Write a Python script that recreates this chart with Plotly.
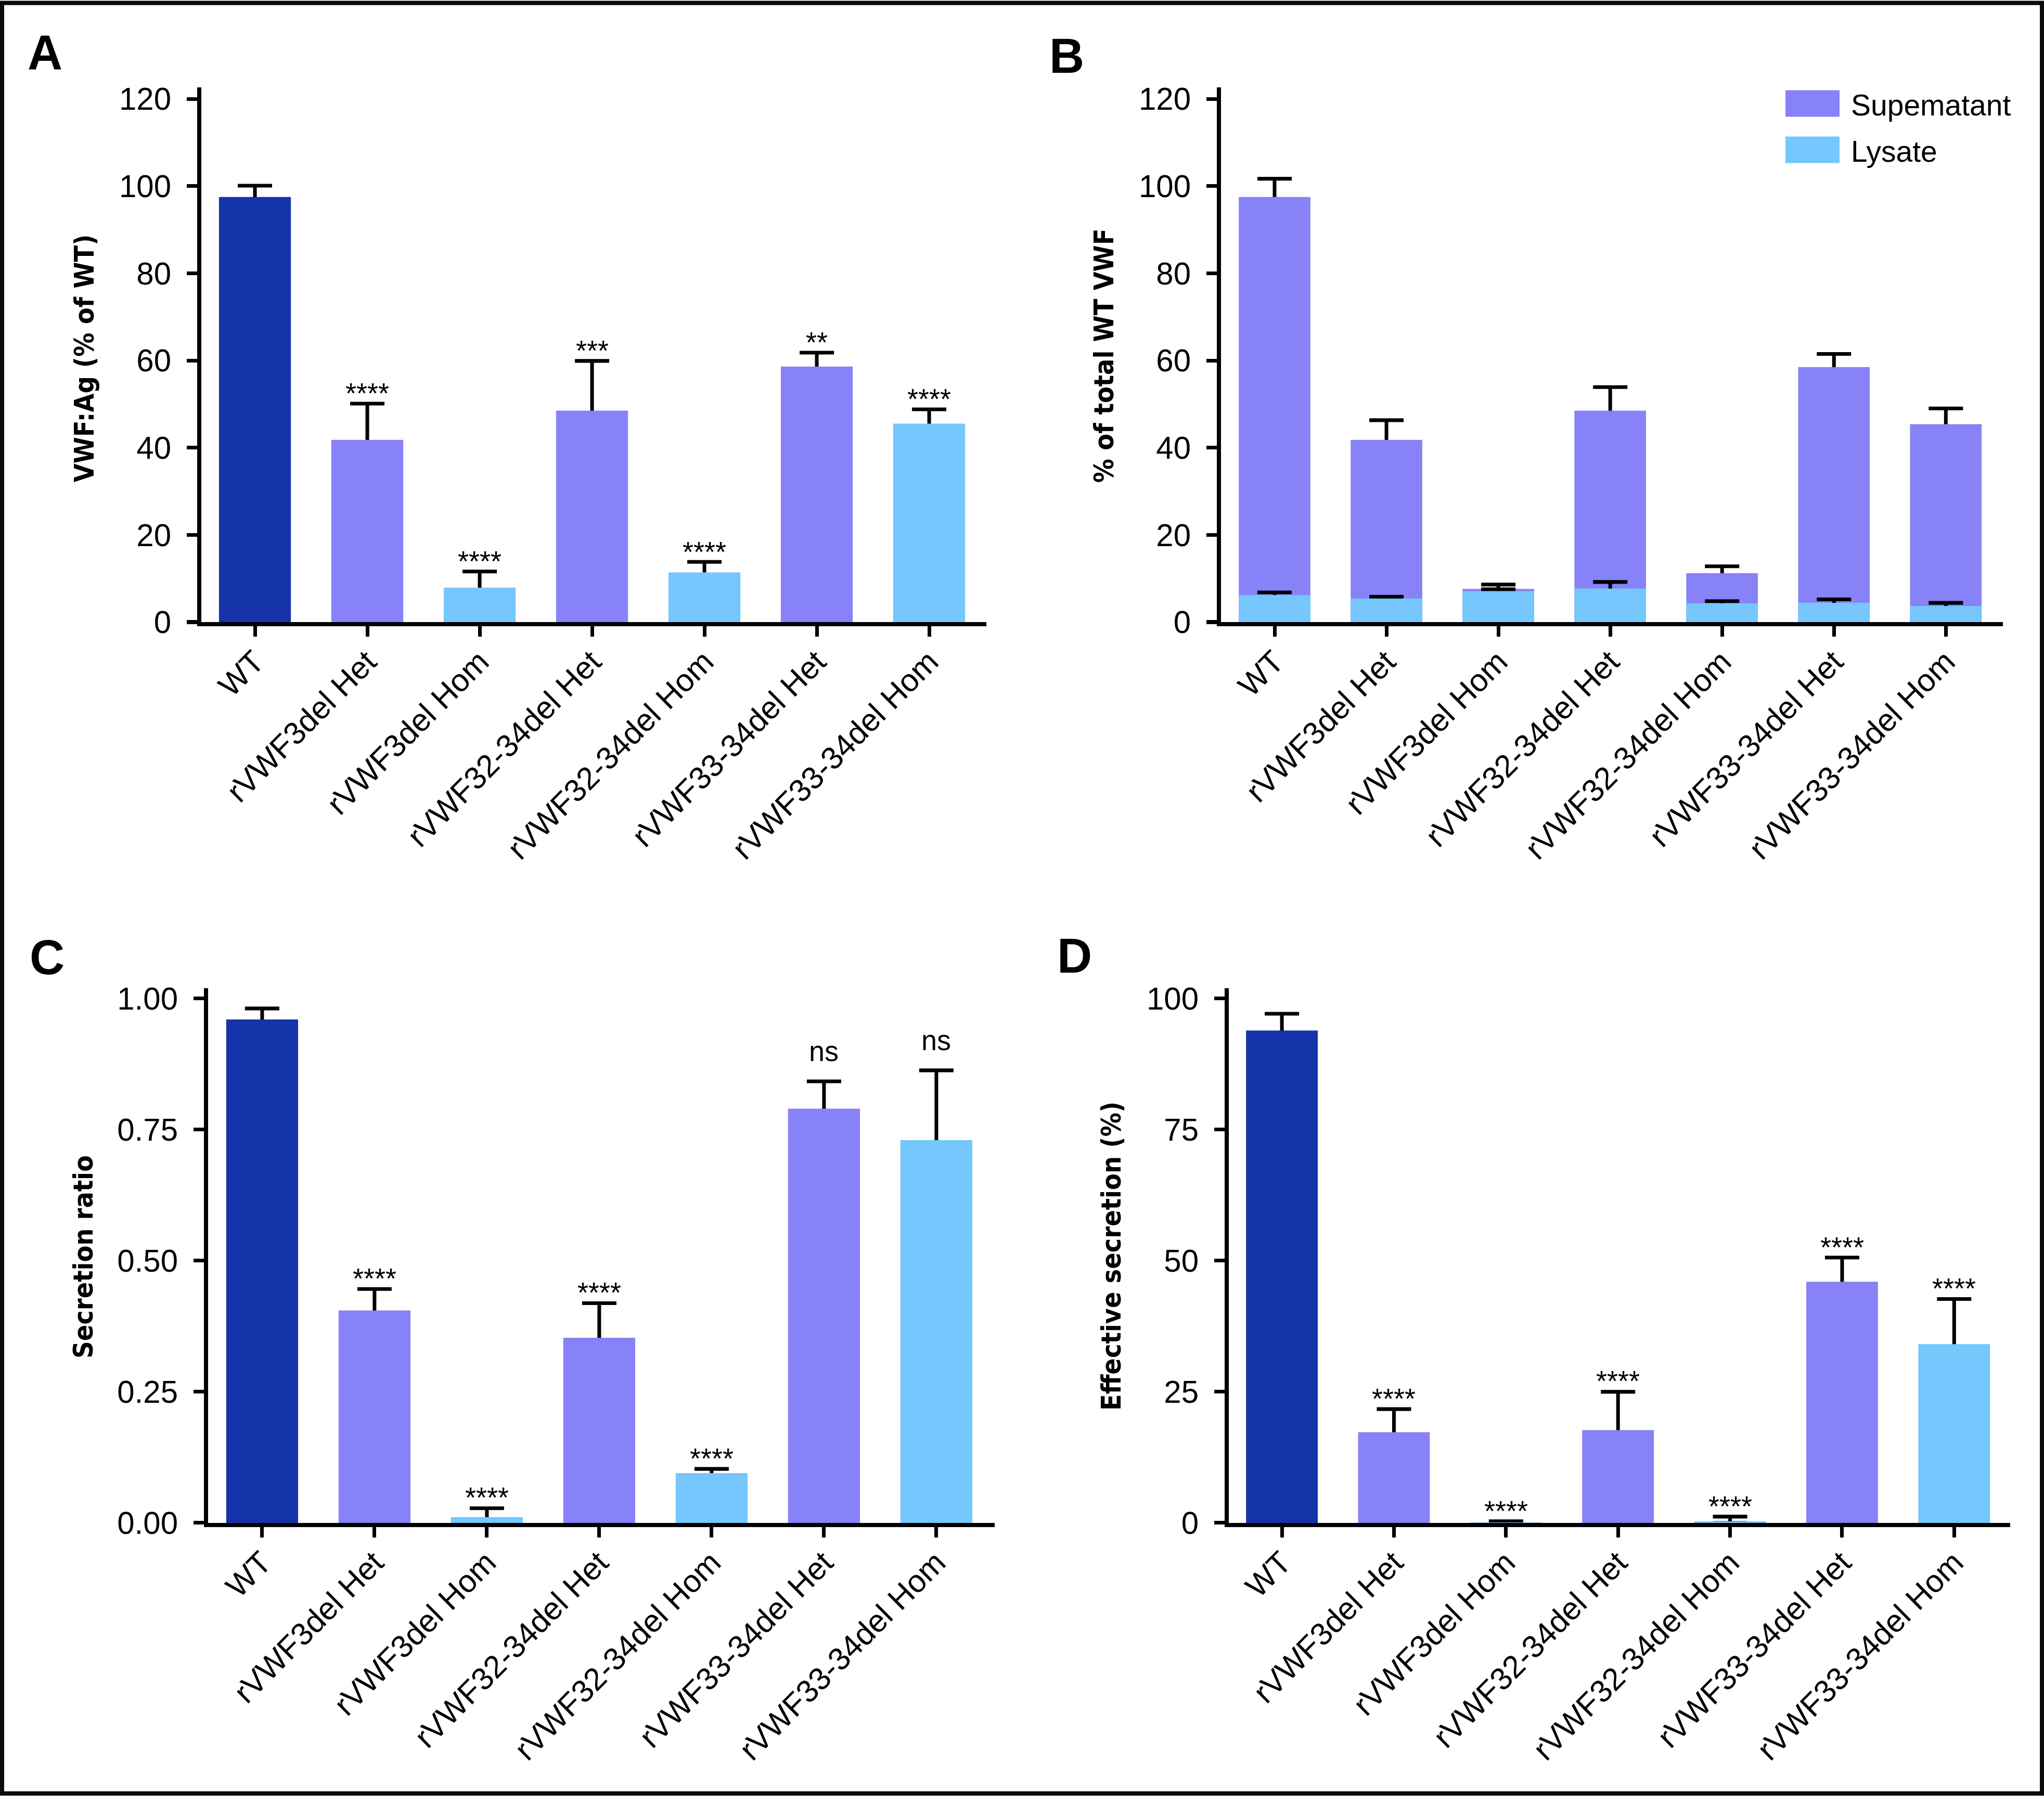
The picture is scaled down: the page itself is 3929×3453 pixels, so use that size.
import plotly.graph_objects as go

# ---------------- data ----------------
categories = ["WT", "rVWF3del Het", "rVWF3del Hom", "rVWF32-34del Het",
              "rVWF32-34del Hom", "rVWF33-34del Het", "rVWF33-34del Hom"]

# Panel A: VWF:Ag (% of WT)
vwf_ag_mean = [97.5, 41.8, 7.9, 48.5, 11.4, 58.6, 45.5]
vwf_ag_sd = [2.6, 8.3, 3.7, 11.4, 2.4, 3.2, 3.3]
vwf_ag_sig = ["", "****", "****", "***", "****", "**", "****"]

# Panel B: % of total WT VWF
supernatant_name = "Supematant"
lysate_name = "Lysate"
supernatant = [97.5, 41.8, 7.6, 48.5, 11.2, 58.5, 45.4]
supernatant_sd = [4.2, 4.5, 1.0, 5.4, 1.6, 3.0, 3.6]
lysate = [6.2, 5.4, 7.1, 7.7, 4.3, 4.4, 3.7]
lysate_sd = [0.6, 0.4, 0.4, 1.5, 0.5, 0.8, 0.7]

# Panel C: secretion ratio
secretion_ratio = [0.960, 0.405, 0.011, 0.353, 0.095, 0.790, 0.730]
secretion_sd = [0.021, 0.041, 0.017, 0.066, 0.008, 0.052, 0.133]
secretion_sig = ["", "****", "****", "****", "****", "ns", "ns"]

# Panel D: effective secretion (%)
effective = [93.9, 17.3, 0.1, 17.7, 0.3, 46.0, 34.1]
effective_sd = [3.2, 4.4, 0.2, 7.3, 0.9, 4.6, 8.6]
effective_sig = ["", "****", "****", "****", "****", "****", "****"]

y_ticks_ab = [0, 20, 40, 60, 80, 100, 120]
y_ticks_c = [0, 0.25, 0.5, 0.75, 1.0]
y_ticks_c_text = ["0.00", "0.25", "0.50", "0.75", "1.00"]
y_ticks_d = [0, 25, 50, 75, 100]

# ---------------- style ----------------
W, H = 3929, 3453
DARK = "#1634A9"
PURPLE = "#8782F8"
LIGHT = "#75C7FD"
bar_colors = [DARK, PURPLE, LIGHT, PURPLE, LIGHT, PURPLE, LIGHT]
TICKFONT = dict(family="Liberation Sans, Arial, Helvetica, sans-serif", size=60, color="black")
TITLEFONT = dict(family="Liberation Sans Narrow, DejaVu Sans Condensed, Arial Narrow, Liberation Sans, sans-serif",
                 size=51, color="black")
SIGFONT = dict(family="Liberation Sans, Arial, sans-serif", size=54, color="black")
LETTERFONT = dict(family="Liberation Sans, Arial, sans-serif", size=93, color="black")


def px_x(p):
    return p / W


def px_y(p):
    return 1 - p / H


def err_full(mean, sd):
    # one-sided (upward) error bar: stem runs from the baseline, the bar drawn
    # afterwards hides the part inside it and the lower cap.
    return dict(type="data", array=sd, arrayminus=mean, symmetric=False,
                color="black", thickness=7, width=33, visible=True)


def err_helper(mean, sd, xa, ya):
    return go.Bar(x=categories, y=mean, marker=dict(color="rgba(0,0,0,0)", line=dict(width=0)),
                  error_y=err_full(mean, sd), xaxis=xa, yaxis=ya, showlegend=False,
                  hoverinfo="skip")


def bars(mean, colors, xa, ya, name=None):
    return go.Bar(x=categories, y=mean, name=name, marker=dict(color=colors, line=dict(width=0)),
                  xaxis=xa, yaxis=ya, showlegend=False)


fig = go.Figure()

# Panel A
fig.add_trace(err_helper(vwf_ag_mean, vwf_ag_sd, "x", "y"))
fig.add_trace(bars(vwf_ag_mean, bar_colors, "x", "y"))
# Panel B (overlaid)
fig.add_trace(err_helper(supernatant, supernatant_sd, "x2", "y2"))
fig.add_trace(bars(supernatant, PURPLE, "x2", "y2", supernatant_name))
fig.add_trace(err_helper(lysate, lysate_sd, "x2", "y2"))
fig.add_trace(bars(lysate, LIGHT, "x2", "y2", lysate_name))
# Panel C
fig.add_trace(err_helper(secretion_ratio, secretion_sd, "x3", "y3"))
fig.add_trace(bars(secretion_ratio, bar_colors, "x3", "y3"))
# Panel D
fig.add_trace(err_helper(effective, effective_sd, "x4", "y4"))
fig.add_trace(bars(effective, bar_colors, "x4", "y4"))


def xaxis(dom, rng, anchor):
    return dict(domain=[px_x(dom[0]), px_x(dom[1])], range=rng, anchor=anchor,
                type="category", showline=True, linewidth=8, linecolor="black",
                ticks="outside", ticklen=20, tickwidth=7, tickcolor="black",
                tickangle=-45, tickfont=TICKFONT, showgrid=False, zeroline=False,
                ticklabelstandoff=-12, fixedrange=True)


def yaxis(dom, rng, anchor, tickvals, ticktext=None):
    d = dict(domain=[px_y(dom[1]), px_y(dom[0])], range=rng, anchor=anchor,
             showline=True, linewidth=8, linecolor="black",
             ticks="outside", ticklen=20, tickwidth=7, tickcolor="black",
             tickvals=tickvals, tickfont=TICKFONT, showgrid=False, zeroline=False,
             ticklabelstandoff=18)
    if ticktext is not None:
        d["ticktext"] = ticktext
    return d


fig.update_layout(
    width=W, height=H,
    margin=dict(l=0, r=0, t=0, b=0),
    paper_bgcolor="white", plot_bgcolor="white",
    barmode="overlay", bargap=0.36,
    showlegend=False,
    xaxis=xaxis((387, 1896), [-0.477, 6.509], "y"),
    yaxis=yaxis((166, 1195), [0, 122.7], "x", y_ticks_ab),
    xaxis2=xaxis((2347, 3850), [-0.479, 6.51], "y2"),
    yaxis2=yaxis((166, 1195), [0, 122.7], "x2", y_ticks_ab),
    xaxis3=xaxis((400, 1912), [-0.481, 6.519], "y3"),
    yaxis3=yaxis((1899, 2928), [0, 1.02], "x3", y_ticks_c, y_ticks_c_text),
    xaxis4=xaxis((2362, 3864), [-0.474, 6.50], "y4"),
    yaxis4=yaxis((1899, 2928), [0, 102], "x4", y_ticks_d),
)

annotations = []


def add_sig(sig, mean, sd, xr, yr):
    for c, s, m, e in zip(categories, sig, mean, sd):
        if not s:
            continue
        shift = 57 if s == "ns" else 20
        annotations.append(dict(x=c, y=m + e, xref=xr, yref=yr, text=s, showarrow=False,
                                xanchor="center", yanchor="middle", yshift=shift, font=SIGFONT))


add_sig(vwf_ag_sig, vwf_ag_mean, vwf_ag_sd, "x", "y")
add_sig(secretion_sig, secretion_ratio, secretion_sd, "x3", "y3")
add_sig(effective_sig, effective, effective_sd, "x4", "y4")

# axis titles
titles = [("VWF:Ag (% of WT)", 163, 688), ("% of total WT VWF", 2123, 683),
          ("Secretion ratio", 160, 2416), ("Effective secretion (%)", 2136, 2415)]
for t, xp, yp in titles:
    annotations.append(dict(x=px_x(xp), y=px_y(yp), xref="paper", yref="paper",
                            text="<b>" + t + "</b>",
                            textangle=-90, showarrow=False, xanchor="center", yanchor="middle",
                            font=TITLEFONT))

# panel letters
letters = [("A", 86, 100), ("B", 2050, 106), ("C", 90, 1840), ("D", 2065, 1837)]
for t, xp, yp in letters:
    annotations.append(dict(x=px_x(xp), y=px_y(yp), xref="paper", yref="paper",
                            text="<b>" + t + "</b>", showarrow=False, xanchor="center",
                            yanchor="middle", font=LETTERFONT))

# legend (panel B)
shapes = []
legend_items = [(supernatant_name, PURPLE, 172, 223), (lysate_name, LIGHT, 261, 312)]
for name, col, y0, y1 in legend_items:
    shapes.append(dict(type="rect", xref="paper", yref="paper", x0=px_x(3432), x1=px_x(3536),
                       y0=px_y(y1), y1=px_y(y0), fillcolor=col, line=dict(width=0)))
    annotations.append(dict(x=px_x(3556), y=px_y((y0 + y1) / 2 + 2), xref="paper", yref="paper",
                            text=name, showarrow=False, xanchor="left", yanchor="middle",
                            font=dict(family="Liberation Sans, Arial, sans-serif", size=57,
                                      color="black")))

# outer frame
shapes.append(dict(type="rect", xref="paper", yref="paper", x0=px_x(4), x1=px_x(W - 4),
                   y0=px_y(H - 4.5), y1=px_y(4), line=dict(color="#0a0a0a", width=8),
                   fillcolor="rgba(0,0,0,0)"))

fig.update_layout(annotations=annotations, shapes=shapes)

page_css = ("var gd=document.getElementById('{plot_id}');"
            "document.documentElement.style.cssText='margin:0;padding:0;overflow:hidden;"
            "width:3929px;height:3453px;background:white;';"
            "document.body.style.cssText='margin:0;padding:0;overflow:hidden;"
            "width:3929px;height:3453px;position:relative;background:white;';"
            "gd.style.position='absolute';gd.style.left='0px';gd.style.top='0px';"
            "gd.style.transformOrigin='0 0';"
            "gd.style.transform='translateY(-11.5px) scaleY(1.0132)';")
fig.write_html("out.html", config={"displayModeBar": False}, post_script=page_css)
